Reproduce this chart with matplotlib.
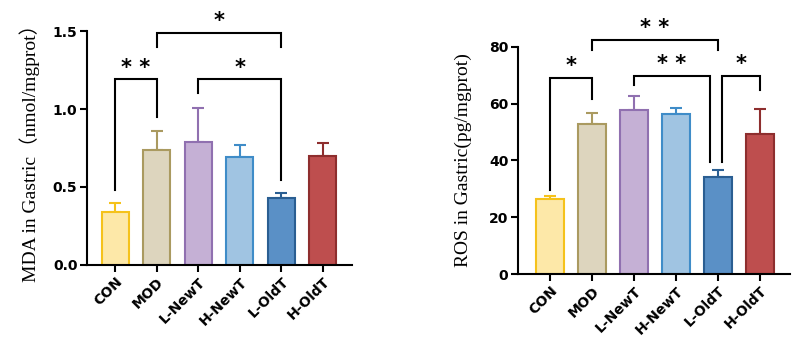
import matplotlib
matplotlib.use("Agg")
import matplotlib.pyplot as plt
import matplotlib.transforms as mtransforms
import numpy as np

categories = ["CON", "MOD", "L-NewT", "H-NewT", "L-OldT", "H-OldT"]
mda_mean = [0.34, 0.74, 0.79, 0.69, 0.43, 0.70]
mda_err = [0.06, 0.12, 0.22, 0.08, 0.03, 0.08]
ros_mean = [26.3, 52.8, 57.7, 56.3, 34.0, 49.2]
ros_err = [1.3, 3.8, 5.1, 2.1, 2.6, 8.9]

face_colors = ["#FDE8A8", "#DDD5BE", "#C5B0D5", "#A0C4E2", "#5A90C6", "#BE4E4E"]
edge_colors = ["#F5C21B", "#AA9A60", "#9070B0", "#3F8CC8", "#2A5E92", "#8E2E2E"]

# brackets: (x1, x2, top, left_leg_bottom, right_leg_bottom, label)
mda_brackets = [
    (0, 1, 1.19, 0.48, 0.95, "* *"),
    (1, 4, 1.49, 1.40, 1.40, "*"),
    (2, 4, 1.19, 1.10, 0.545, "*"),
]
ros_brackets = [
    (0, 1, 69.1, 29.6, 61.6, "*"),
    (1, 4, 82.4, 78.9, 78.9, "* *"),
    (2, 3.8, 69.8, 66.5, 39.5, "* *"),
    (4.1, 5, 69.8, 39.5, 64.8, "*"),
]

fig = plt.figure(figsize=(8, 3.58), dpi=100)
ax1 = fig.add_axes([0.109, 0.26, 0.331, 0.653])
ax2 = fig.add_axes([0.6475, 0.2346, 0.34, 0.635])

ytick_font = dict(family="DejaVu Sans", weight="bold", size=10)
xtick_font = dict(family="DejaVu Sans", weight="bold", size=10)
label_family = ["Liberation Serif", "Noto Sans CJK SC"]


def draw(ax, mean, err, brackets, ylim, yticks, yticklabels, xlim, ylabel, star_gap, labelpad):
    x = np.arange(len(categories))
    for i in range(len(categories)):
        ax.bar(x[i], mean[i], width=0.65, color=face_colors[i], edgecolor=edge_colors[i],
               linewidth=1.5, zorder=2)
        ax.errorbar(x[i], mean[i], yerr=[[0], [err[i]]], fmt="none", ecolor=edge_colors[i],
                    elinewidth=1.5, capsize=4, capthick=1.5, zorder=1)
    ax.set_xlim(*xlim)
    ax.set_ylim(*ylim)
    ax.set_yticks(yticks)
    ax.set_yticklabels(yticklabels, fontdict=ytick_font)
    ax.set_xticks(x)
    labels = ax.set_xticklabels(categories, rotation=45, ha="right", rotation_mode="anchor",
                                fontdict=xtick_font)
    offset = mtransforms.ScaledTranslation(-4 / 100, 0, fig.dpi_scale_trans)
    for lab in labels:
        lab.set_transform(lab.get_transform() + offset)
    for s in ["top", "right"]:
        ax.spines[s].set_visible(False)
    for s in ["left", "bottom"]:
        ax.spines[s].set_linewidth(1.5)
    ax.tick_params(axis="both", width=1.5, length=5, direction="out", pad=2)
    ax.set_ylabel(ylabel, family=label_family, fontsize=14, labelpad=labelpad)
    for (a, b, top, lb, rb, lab) in brackets:
        ax.plot([a, a, b, b], [lb, top, top, rb], color="black", lw=1.5, clip_on=False,
                solid_joinstyle="miter", zorder=3)
        ax.text((a + b) / 2, top + star_gap, lab, ha="center", va="bottom",
                fontsize=15, fontweight="bold", family="DejaVu Sans", clip_on=False)


draw(ax1, mda_mean, mda_err, mda_brackets, (0, 1.5), [0, 0.5, 1.0, 1.5],
     ["0.0", "0.5", "1.0", "1.5"], (-0.67, 5.7),
     "MDA in Gastric（nmol/mgprot）", 0.01, 9)
draw(ax2, ros_mean, ros_err, ros_brackets, (0, 80), [0, 20, 40, 60, 80],
     ["0", "20", "40", "60", "80"], (-0.76, 5.71),
     "ROS in Gastric(pg/mgprot)", 0.5, 12)

fig.savefig("out.png", dpi=100)
